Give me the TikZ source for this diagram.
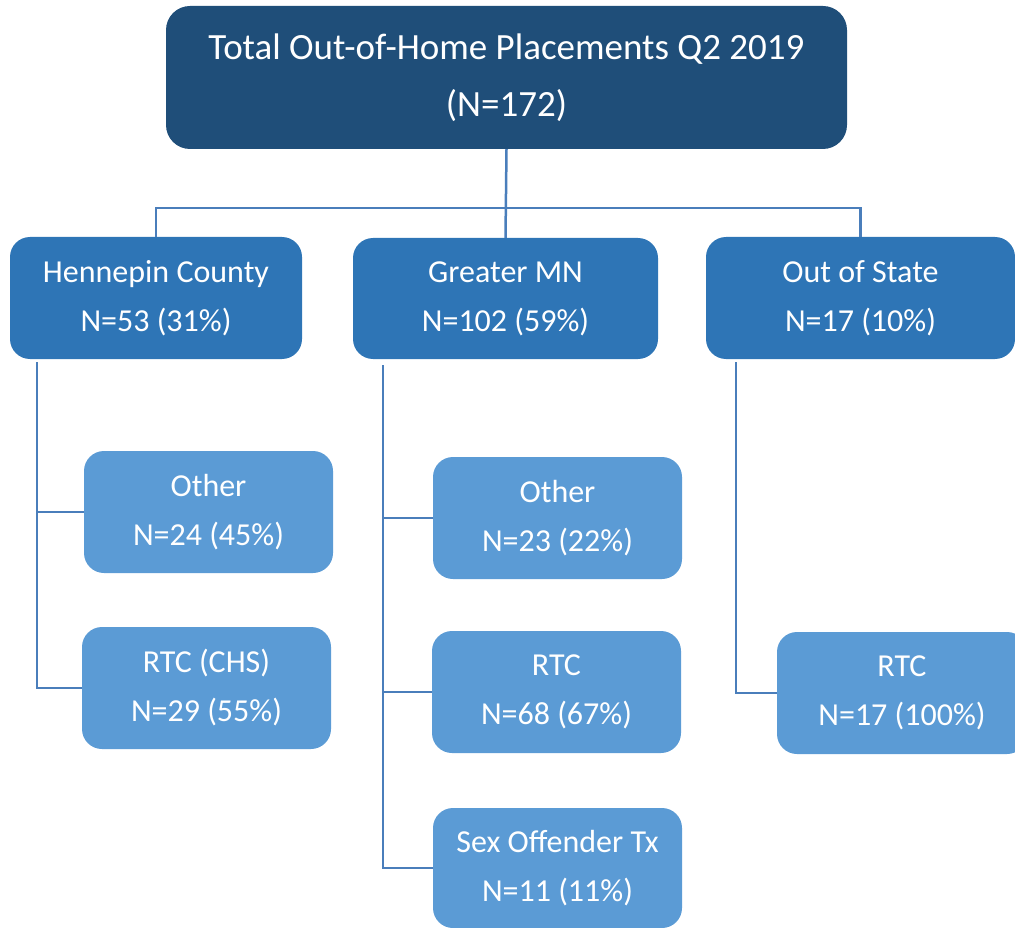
\documentclass[tikz,border=0pt]{standalone}
\usepackage{fontspec}
\setmainfont{Carlito}
\definecolor{dark}{HTML}{1F4E79}
\definecolor{mid}{HTML}{2E75B6}
\definecolor{light}{HTML}{5B9BD5}
\definecolor{conn}{HTML}{4A7EBB}
\begin{document}
\begin{tikzpicture}[x=1pt,y=-1pt,
  box/.style={rectangle,rounded corners=20pt,draw=none,text=white,align=center,inner sep=0pt},
  topbox/.style={box,fill=dark,rounded corners=24pt,font=\fontsize{37}{57}\selectfont},
  lvtwo/.style={box,fill=mid,font=\fontsize{32}{49}\selectfont},
  lvthree/.style={box,fill=light,font=\fontsize{32}{49}\selectfont},
  link/.style={draw=conn,line width=2.5pt}]
\useasboundingbox (0,0) rectangle (1015,928);
\clip (0,0) rectangle (1015,928);
\node[topbox,minimum width=681pt,minimum height=143pt] (top) at (506.5,77.5) {Total Out-of-Home Placements Q2 2019\\(N=172)};
\node[lvtwo,minimum width=292pt,minimum height=122pt] (hen) at (156,298) {Hennepin County\\N=53 (31\%)};
\node[lvtwo,minimum width=305pt,minimum height=121pt] (gmn) at (505.5,298.5) {Greater MN\\N=102 (59\%)};
\node[lvtwo,minimum width=309pt,minimum height=122pt] (oos) at (860.5,298) {Out of State\\N=17 (10\%)};
\node[lvthree,minimum width=249pt,minimum height=122pt] (oh) at (208.5,512) {Other\\N=24 (45\%)};
\node[lvthree,minimum width=249pt,minimum height=122pt] (rh) at (206.5,688) {RTC (CHS)\\N=29 (55\%)};
\node[lvthree,minimum width=249pt,minimum height=122pt] (og) at (557.5,518) {Other\\N=23 (22\%)};
\node[lvthree,minimum width=249pt,minimum height=122pt] (rg) at (556.5,692) {RTC\\N=68 (67\%)};
\node[lvthree,minimum width=249pt,minimum height=120pt] (sx) at (557.5,868) {Sex Offender Tx\\N=11 (11\%)};
\node[lvthree,minimum width=250pt,minimum height=122pt] (ro) at (902,693) {RTC\\N=17 (100\%)};
\coordinate (bus) at (506,208);
\coordinate (h0) at (37,362);
\coordinate (g0) at (383,365);
\coordinate (s0) at (736,362);
\draw[link] (top.south) -- (gmn.north);
\draw[link] (hen.north) |- (bus) -| (oos.north);
\draw[link] (h0) |- (oh.west);
\draw[link] (h0) |- (rh.west);
\draw[link] (g0) |- (og.west);
\draw[link] (g0) |- (rg.west);
\draw[link] (g0) |- (sx.west);
\draw[link] (s0) |- (ro.west);
\end{tikzpicture}
\end{document}
